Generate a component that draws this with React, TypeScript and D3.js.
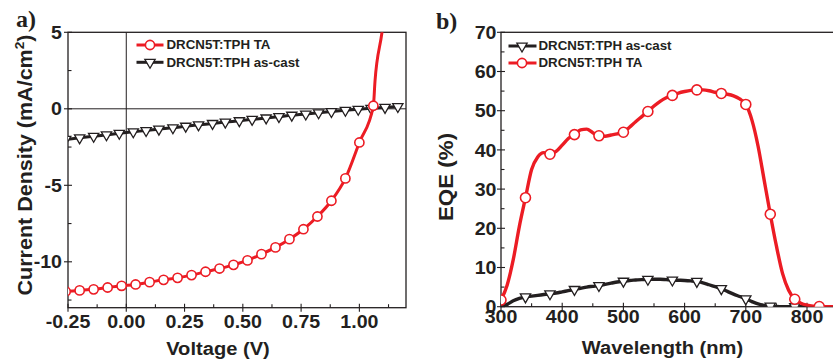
import React, { useEffect, useRef } from 'react';
import * as d3 from 'd3';

// panel a) J-V curves
const taVoltage = [-0.26, -0.2, -0.14, -0.08, -0.02, 0.04, 0.1, 0.16, 0.22, 0.28, 0.34, 0.4, 0.46, 0.52, 0.58, 0.64, 0.7, 0.76, 0.82, 0.88, 0.94, 1.0, 1.06];
const taCurrent = [-11.94, -11.87, -11.8, -11.68, -11.57, -11.48, -11.33, -11.18, -11.05, -10.87, -10.65, -10.44, -10.2, -9.91, -9.5, -9.06, -8.52, -7.87, -7.04, -6.01, -4.55, -2.2, 0.2];
const taTailVoltage = [1.067, 1.097, 1.12];
const taTailCurrent = [1.8, 5.0, 8.0];

const castVoltage = [-0.26, -0.2, -0.14, -0.085, -0.03, 0.03, 0.085, 0.14, 0.2, 0.255, 0.31, 0.37, 0.425, 0.485, 0.54, 0.6, 0.655, 0.71, 0.77, 0.825, 0.88, 0.94, 0.995, 1.05, 1.11, 1.165];
const castCurrent = [-2.0, -1.9, -1.8, -1.7, -1.6, -1.5, -1.42, -1.33, -1.24, -1.14, -1.05, -0.96, -0.87, -0.78, -0.69, -0.6, -0.51, -0.42, -0.34, -0.26, -0.18, -0.1, -0.03, 0.03, 0.09, 0.15];

const jvXTicks = [-0.25, 0, 0.25, 0.5, 0.75, 1.0];
const jvYTicks = [5, 0, -5, -10];

// panel b) EQE spectra
const wavelength = [300, 310, 320, 330, 340, 350, 360, 370, 380, 390, 400, 410, 420, 430, 440, 450, 460, 470, 480, 490, 500, 510, 520, 530, 540, 550, 560, 570, 580, 590, 600, 610, 620, 630, 640, 650, 660, 670, 680, 690, 700, 710, 720, 730, 740, 750, 760, 770, 780, 790, 800, 810, 820, 830, 840, 850];
const eqeTA = [1.7, 5.5, 12, 20.5, 27.8, 35, 38.2, 39.3, 38.9, 39.6, 41.2, 42.9, 43.9, 45.1, 45.3, 44.4, 43.6, 43.5, 43.8, 44.1, 44.5, 45.8, 47.2, 48.5, 49.8, 51.2, 52.4, 53.3, 53.9, 54.5, 54.9, 55.2, 55.3, 55.3, 55.1, 54.7, 54.4, 54.2, 53.8, 53.0, 51.6, 47.6, 41.0, 32.3, 23.6, 15.5, 8.5, 4.2, 1.9, 0.9, 0.4, 0.15, 0.05, 0, 0, 0];
const eqeCast = [0, 0.6, 1.5, 2.1, 2.5, 2.7, 2.9, 3.1, 3.3, 3.5, 3.8, 4.1, 4.4, 4.7, 5.0, 5.2, 5.4, 5.7, 6.0, 6.3, 6.5, 6.7, 6.8, 6.9, 7.0, 7.0, 7.0, 6.9, 6.8, 6.75, 6.7, 6.6, 6.45, 6.1, 5.6, 5.1, 4.6, 3.9, 3.2, 2.6, 2.0, 1.3, 0.7, 0.35, 0.15, 0.05, 0, 0, 0, 0, 0, 0, 0, 0, 0, 0];
const taMarkerWl = [300, 340, 380, 420, 460, 500, 540, 580, 620, 660, 700, 740, 780, 820];
const castMarkerWl = [340, 380, 420, 460, 500, 540, 580, 620, 660, 700, 740, 780];

const eqeXTicks = [300, 400, 500, 600, 700, 800];
const eqeYTicks = [0, 10, 20, 30, 40, 50, 60, 70];

const RED = '#ec1c24';
const INK = '#231f20';
const SANS = '"Liberation Sans", Arial, Helvetica, sans-serif';
const SERIF = '"Liberation Serif", "Times New Roman", serif';

type Pt = [number, number];

const App: React.FC = () => {
  const svgRef = useRef<SVGSVGElement>(null);

  useEffect(() => {
    if (!svgRef.current) return;
    const svg = d3.select(svgRef.current);
    svg.selectAll('*').remove();

    const defs = svg.append('defs');
    const tri = d3.symbol(d3.symbolTriangle, 46)()!;

    const label = (
      g: d3.Selection<SVGGElement, unknown, null, undefined>,
      x: number,
      y: number,
      txt: string,
      size: number,
      anchor: string,
      sx = 1.06,
      rot = 0,
    ) =>
      g
        .append('text')
        .attr('transform', `translate(${x},${y}) rotate(${rot}) scale(${sx},1)`)
        .attr('font-family', SANS)
        .attr('font-weight', 'bold')
        .attr('font-size', size)
        .attr('fill', INK)
        .attr('text-anchor', anchor)
        .text(txt);

    const panel = (
      id: string,
      x: d3.ScaleLinear<number, number>,
      y: d3.ScaleLinear<number, number>,
      xTicks: number[],
      yTicks: number[],
      xMinor: number[],
      yMinor: number[],
      xFmt: (v: number) => string,
      xLabelY: number,
      yLabelX: number,
    ) => {
      const [x0, x1] = x.range();
      const [y0, y1] = y.range();
      defs
        .append('clipPath')
        .attr('id', id)
        .append('rect')
        .attr('x', x0)
        .attr('y', y1)
        .attr('width', x1 - x0)
        .attr('height', y0 - y1);

      const g = svg.append('g');
      g.append('rect')
        .attr('x', x0)
        .attr('y', y1)
        .attr('width', x1 - x0)
        .attr('height', y0 - y1)
        .attr('fill', 'none')
        .attr('stroke', INK)
        .attr('stroke-width', 1.3);

      // major ticks cross the axis, minor point inward
      xTicks.forEach((v) =>
        g.append('line').attr('x1', x(v)).attr('x2', x(v)).attr('y1', y0 + 4).attr('y2', y0 - 4).attr('stroke', INK).attr('stroke-width', 1.1),
      );
      xMinor.forEach((v) =>
        g.append('line').attr('x1', x(v)).attr('x2', x(v)).attr('y1', y0).attr('y2', y0 - 3.5).attr('stroke', INK).attr('stroke-width', 1.1),
      );
      yTicks.forEach((v) =>
        g.append('line').attr('x1', x0 - 4).attr('x2', x0 + 4).attr('y1', y(v)).attr('y2', y(v)).attr('stroke', INK).attr('stroke-width', 1.1),
      );
      yMinor.forEach((v) =>
        g.append('line').attr('x1', x0).attr('x2', x0 + 3.5).attr('y1', y(v)).attr('y2', y(v)).attr('stroke', INK).attr('stroke-width', 1.1),
      );

      xTicks.forEach((v) => label(g, x(v), xLabelY, xFmt(v), 18.5, 'middle'));
      yTicks.forEach((v) => label(g, yLabelX, y(v) + 6.6, String(v), 18.5, 'end'));

      const plot = g.append('g').attr('clip-path', `url(#${id})`);
      return { g, plot };
    };

    const circles = (
      plot: d3.Selection<SVGGElement, unknown, null, undefined>,
      pts: Pt[],
      r: number,
    ) =>
      plot
        .selectAll(null)
        .data(pts)
        .join('circle')
        .attr('cx', (d) => d[0])
        .attr('cy', (d) => d[1])
        .attr('r', r)
        .attr('fill', '#fff')
        .attr('stroke', RED)
        .attr('stroke-width', 1.6);

    const triangles = (
      plot: d3.Selection<SVGGElement, unknown, null, undefined>,
      pts: Pt[],
    ) =>
      plot
        .selectAll(null)
        .data(pts)
        .join('path')
        .attr('d', tri)
        .attr('transform', (d) => `translate(${d[0]},${d[1]}) rotate(180)`)
        .attr('fill', '#fff')
        .attr('stroke', INK)
        .attr('stroke-width', 1.3);

    const line = d3.line<Pt>().curve(d3.curveMonotoneX);

    // ---------- panel a ----------
    const xa = d3.scaleLinear().domain([-0.25, 1.2]).range([68, 406]);
    const ya = d3.scaleLinear().domain([-13, 5]).range([307.7, 32.3]);
    const a = panel(
      'clipA',
      xa,
      ya,
      jvXTicks,
      jvYTicks,
      [-0.125, 0.125, 0.375, 0.625, 0.875, 1.125],
      [2.5, -2.5, -7.5, -12.5],
      (v) => v.toFixed(2),
      327.5,
      62,
    );
    a.plot.append('line').attr('x1', xa(-0.25)).attr('x2', xa(1.2)).attr('y1', ya(0)).attr('y2', ya(0)).attr('stroke', INK).attr('stroke-width', 1);
    a.plot.append('line').attr('x1', xa(0)).attr('x2', xa(0)).attr('y1', ya(5)).attr('y2', ya(-13)).attr('stroke', INK).attr('stroke-width', 1);

    const castPts: Pt[] = castVoltage.map((v, i) => [xa(v), ya(castCurrent[i])]);
    a.plot.append('path').attr('d', line(castPts)).attr('fill', 'none').attr('stroke', INK).attr('stroke-width', 3);
    triangles(a.plot, castPts);

    const taPts: Pt[] = taVoltage.map((v, i) => [xa(v), ya(taCurrent[i])]);
    const taTail: Pt[] = taTailVoltage.map((v, i) => [xa(v), ya(taTailCurrent[i])]);
    a.plot.append('path').attr('d', line([...taPts, ...taTail])).attr('fill', 'none').attr('stroke', RED).attr('stroke-width', 3);
    circles(a.plot, taPts, 4.6);

    label(a.g, 218, 355, 'Voltage (V)', 19, 'middle');
    const yt = a.g
      .append('text')
      .attr('transform', 'translate(32,165) rotate(-90) scale(1.05,1)')
      .attr('font-family', SANS)
      .attr('font-weight', 'bold')
      .attr('font-size', 20.5)
      .attr('fill', INK)
      .attr('text-anchor', 'middle');
    yt.append('tspan').text('Current Density (mA/cm');
    yt.append('tspan').attr('dy', -8).attr('font-size', 13).text('2');
    yt.append('tspan').attr('dy', 8).text(')');

    svg.append('text').attr('x', 16).attr('y', 27).attr('font-family', SERIF).attr('font-weight', 'bold').attr('font-size', 24).attr('fill', INK).text('a)');

    // legend a
    const legA = [
      { y: 45, color: RED, kind: 'circle', text: 'DRCN5T:TPH TA' },
      { y: 62.3, color: INK, kind: 'tri', text: 'DRCN5T:TPH as-cast' },
    ];
    legA.forEach((l) => {
      a.g.append('line').attr('x1', 136.5).attr('x2', 163.5).attr('y1', l.y).attr('y2', l.y).attr('stroke', l.color).attr('stroke-width', 3);
      if (l.kind === 'circle') circles(a.g as any, [[150, l.y]], 4.6);
      else triangles(a.g as any, [[150, l.y]]);
      label(a.g, 166.5, l.y + 4.4, l.text, 12, 'start', 1.11);
    });

    // ---------- panel b ----------
    const xb = d3.scaleLinear().domain([300, 850]).range([501, 837.6]);
    const yb = d3.scaleLinear().domain([0, 70]).range([306.7, 32.3]);
    const b = panel(
      'clipB',
      xb,
      yb,
      eqeXTicks,
      eqeYTicks,
      [350, 450, 550, 650, 750],
      [5, 15, 25, 35, 45, 55, 65],
      (v) => String(v),
      323,
      496.5,
    );

    const castB: Pt[] = wavelength.map((w, i) => [xb(w), yb(eqeCast[i])]);
    b.plot.append('path').attr('d', line(castB)).attr('fill', 'none').attr('stroke', INK).attr('stroke-width', 3.4);
    triangles(
      b.plot,
      castMarkerWl.map((w) => [xb(w), yb(eqeCast[wavelength.indexOf(w)])] as Pt),
    );

    const taB: Pt[] = wavelength.map((w, i) => [xb(w), yb(eqeTA[i])]);
    b.plot.append('path').attr('d', line(taB)).attr('fill', 'none').attr('stroke', RED).attr('stroke-width', 3.4);
    circles(
      b.plot,
      taMarkerWl.map((w) => [xb(w), yb(eqeTA[wavelength.indexOf(w)])] as Pt),
      5,
    );

    label(b.g, 662.5, 354, 'Wavelength (nm)', 19, 'middle');
    label(b.g, 453, 177, 'EQE (%)', 20.5, 'middle', 1.09, -90);

    svg.append('text').attr('x', 436).attr('y', 29).attr('font-family', SERIF).attr('font-weight', 'bold').attr('font-size', 24).attr('fill', INK).text('b)');

    const legB = [
      { y: 46, color: INK, kind: 'tri', text: 'DRCN5T:TPH as-cast' },
      { y: 63, color: RED, kind: 'circle', text: 'DRCN5T:TPH TA' },
    ];
    legB.forEach((l) => {
      b.g.append('line').attr('x1', 508.5).attr('x2', 536.5).attr('y1', l.y).attr('y2', l.y).attr('stroke', l.color).attr('stroke-width', 3);
      if (l.kind === 'circle') circles(b.g as any, [[522, l.y]], 4.6);
      else triangles(b.g as any, [[522, l.y]]);
      label(b.g, 538.5, l.y + 4.4, l.text, 12, 'start', 1.11);
    });
  }, []);

  return (
    <svg
      ref={svgRef}
      width={833}
      height={361}
      style={{ position: 'absolute', left: 0, top: 0, background: '#fff' }}
    />
  );
};

export default App;
